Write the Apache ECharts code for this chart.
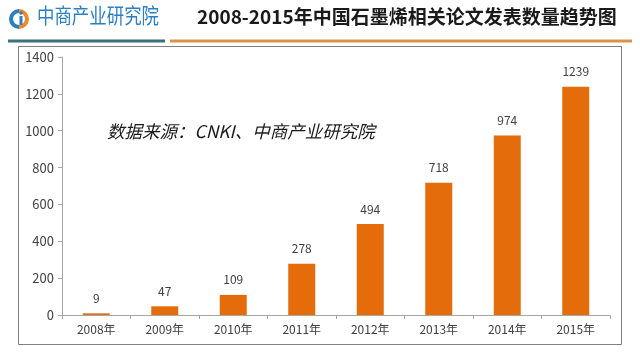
<!DOCTYPE html>
<html><head><meta charset="utf-8">
<script src="https://cdn.jsdelivr.net/npm/echarts@6/dist/echarts.min.js"></script>
<style>html,body{margin:0;padding:0;background:#fff;}#c{width:640px;height:359px;}</style>
</head><body><div id="c"></div>
<script>
const categories = ['2008年','2009年','2010年','2011年','2012年','2013年','2014年','2015年'];
const values = [9, 47, 109, 278, 494, 718, 974, 1239];
const yTicks = [0, 200, 400, 600, 800, 1000, 1200, 1400];
const titleText = '2008-2015年中国石墨烯相关论文发表数量趋势图';
const logoText = '中商产业研究院';
const noteText = '数据来源：CNKI、中商产业研究院';

const chart = echarts.init(document.getElementById('c'));
const font = '"Noto Sans CJK SC", "Microsoft YaHei", sans-serif';
chart.setOption({
  animation: false,
  backgroundColor: '#fff',
  grid: { left: 62, right: 30, top: 57, bottom: 44 },
  xAxis: {
    type: 'category', data: categories,
    axisLine: { lineStyle: { color: '#a6a6a6', width: 1 } },
    axisTick: { show: true, length: 4, lineStyle: { color: '#a6a6a6' } },
    axisLabel: { color: '#404040', fontSize: 12, fontFamily: font, margin: 8 }
  },
  yAxis: {
    type: 'value', min: yTicks[0], max: yTicks[yTicks.length - 1], interval: 200,
    axisLine: { show: true, lineStyle: { color: '#a6a6a6', width: 1 } },
    axisTick: { show: true, length: 4, lineStyle: { color: '#a6a6a6' } },
    splitLine: { show: false },
    axisLabel: { color: '#404040', fontSize: 13, fontFamily: font, margin: 8, formatter: v => String(v) }
  },
  series: [{
    type: 'bar', data: values, barWidth: 27,
    itemStyle: { color: '#E46C0A' },
    label: { show: true, position: 'top', color: '#404040', fontSize: 12, fontFamily: font, distance: 9 }
  }],
  graphic: [
    { type: 'rect', shape: { x: 18.5, y: 46.5, width: 603, height: 298 }, style: { fill: 'none', stroke: '#7f7f7f', lineWidth: 1 }, z: -1 },
    { type: 'line', shape: { x1: 8, y1: 41, x2: 165, y2: 41 }, style: { stroke: '#3d6f7c', lineWidth: 3 } },
    { type: 'line', shape: { x1: 170, y1: 41, x2: 632, y2: 41 }, style: { stroke: '#d8934c', lineWidth: 3 } },
    { type: 'arc', shape: { cx: 19, cy: 19, r: 8, startAngle: Math.PI * 0.5, endAngle: Math.PI * 1.5 }, style: { stroke: '#2b7fc3', lineWidth: 4, fill: 'none' } },
    { type: 'arc', shape: { cx: 19, cy: 19, r: 8, startAngle: -Math.PI * 0.5, endAngle: Math.PI * 0.5 }, style: { stroke: '#ef8a2b', lineWidth: 4, fill: 'none' } },
    { type: 'circle', shape: { cx: 21, cy: 13, r: 1.8 }, style: { fill: '#2b7fc3' } },
    { type: 'rect', shape: { x: 19.5, y: 16, width: 3, height: 9 }, style: { fill: '#2b7fc3' } },
    { type: 'text', x: 37, y: 5, scaleX: 0.83, style: { text: logoText, fontSize: 21, fontFamily: font, fill: '#2b7fc3' } },
    { type: 'text', left: 197, top: 7, style: { text: titleText, fontSize: 19, fontWeight: 'bold', fontFamily: font, fill: '#1a1a1a' } },
    { type: 'text', left: 107, top: 123, style: { text: noteText, fontSize: 17.5, fontStyle: 'italic', fontFamily: font, fill: '#1a1a1a' } }
  ]
});
</script></body></html>
